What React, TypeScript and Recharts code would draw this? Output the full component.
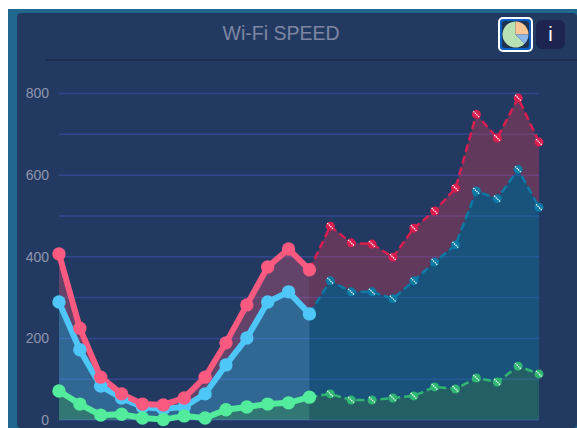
import React from 'react'
import { Area, CartesianGrid, Cell, ComposedChart, Line, Pie, PieChart, XAxis, YAxis } from 'recharts'

const hours = ['0', '1', '2', '3', '4', '5', '6', '7', '8', '9', '10', '11', '12', '13', '14', '15', '16', '17', '18', '19', '20', '21', '22', '23']
const yTicks = [0, 100, 200, 300, 400, 500, 600, 700, 800]

// measured part of the day, up to hour 12
const redMeasured = [407, 225, 105, 64, 39, 37, 54, 105, 189, 282, 375, 419, 368]
const blueMeasured = [289, 172, 83, 54, 32, 27, 32, 64, 135, 201, 289, 314, 260]
const greenMeasured = [71, 39, 12, 14, 5, 1, 10, 5, 25, 32, 39, 42, 56]

// predicted part, from hour 13 on
const redPredicted = [475, 434, 431, 399, 470, 512, 568, 749, 691, 789, 681]
const bluePredicted = [341, 314, 314, 297, 341, 387, 429, 561, 542, 614, 521]
const greenPredicted = [64, 49, 49, 54, 59, 81, 76, 103, 93, 132, 113]

const pieShares = [225, 90, 45]
const pieColors = ['#b9e2b4', '#fbc596', '#8db8ee']

const split = redMeasured.length - 1
const rows = hours.map((hour, i) => {
  const past = i <= split
  const next = i >= split
  const red = past ? redMeasured[i] : redPredicted[i - split - 1]
  const blue = past ? blueMeasured[i] : bluePredicted[i - split - 1]
  const green = past ? greenMeasured[i] : greenPredicted[i - split - 1]
  return {
    hour,
    redPast: past ? red : null,
    bluePast: past ? blue : null,
    greenPast: past ? green : null,
    redNext: next ? red : null,
    blueNext: next ? blue : null,
    greenNext: next ? green : null,
    redBandPast: past ? [blue, red] : null,
    blueBandPast: past ? [green, blue] : null,
    greenBandPast: past ? [0, green] : null,
    redBandNext: next ? [blue, red] : null,
    blueBandNext: next ? [green, blue] : null,
    greenBandNext: next ? [0, green] : null,
  }
})

const hatchDot = (color: string) => (props: any) => {
  const { cx, cy, index } = props
  if (cy == null) return <g key={index} />
  return (
    <g key={index}>
      <circle cx={cx} cy={cy} r={4.5} fill={color} />
      <line x1={cx - 3} y1={cy - 3} x2={cx + 3} y2={cy + 3} stroke="#fff" strokeWidth={1.2} strokeDasharray="1.4 0.8" />
    </g>
  )
}

const App: React.FC = () => {
  return (
    <div style={{ position: 'fixed', left: 8, top: 9, width: 569, height: 419, overflow: 'hidden', background: '#20688e' }}>
      <div style={{ position: 'absolute', left: 9, top: 4, width: 560, height: 415, background: '#223a61', borderRadius: 4 }} />
      <div style={{ position: 'absolute', left: 37, top: 49.5, width: 532, height: 2, background: '#1b2c50' }} />
      <div style={{ position: 'absolute', left: 9, width: 528, top: 13, textAlign: 'center', fontFamily: 'Liberation Sans', fontSize: 19.5, color: '#7f86a3' }}>
        Wi-Fi SPEED
      </div>

      <div style={{ position: 'absolute', left: 490, top: 8, width: 31, height: 31, border: '2px solid #fff', borderRadius: 5, background: '#0a5fc4' }}>
        <div style={{ position: 'absolute', left: 2, top: 2, width: 27, height: 27, background: '#1f3350', borderRadius: 3 }} />
        <div style={{ position: 'absolute', left: 0, top: 0 }}>
          <PieChart width={31} height={31} margin={{ top: 0, right: 0, bottom: 0, left: 0 }}>
            <Pie data={pieShares.map((value) => ({ value }))} dataKey="value" cx="50%" cy="50%" outerRadius={13} innerRadius={0} startAngle={-45} endAngle={-405} stroke="none" isAnimationActive={false}>
              {pieShares.map((_, i) => <Cell key={i} fill={pieColors[i]} />)}
            </Pie>
          </PieChart>
        </div>
      </div>
      <div style={{ position: 'absolute', left: 528, top: 11, width: 29, height: 29, borderRadius: 6, background: '#1e2450', color: '#fff', textAlign: 'center', lineHeight: '29px', fontFamily: 'Liberation Sans', fontSize: 20 }}>
        i
      </div>

      <div style={{ position: 'absolute', left: 0, top: 0 }}>
        <ComposedChart width={569} height={419} data={rows} margin={{ top: 84.5, right: 38, bottom: 8, left: 0 }}>
          <CartesianGrid vertical={false} stroke="#33478f" strokeWidth={1.5} />
          <XAxis dataKey="hour" hide scale="point" padding={{ left: 0, right: 0 }} />
          <YAxis
            domain={[0, 800]}
            ticks={yTicks}
            interval={0}
            width={51}
            axisLine={false}
            tickLine={false}
            tickSize={0}
            tickMargin={10}
            tick={{ fill: '#9095ad', fontSize: 14, fontFamily: 'Liberation Sans' }}
            tickFormatter={(v: number) => (v % 200 === 0 ? String(v) : '')}
          />

          <Area dataKey="redBandNext" fill="#e03a55" fillOpacity={0.33} stroke="none" dot={false} activeDot={false} isAnimationActive={false} />
          <Area dataKey="blueBandNext" fill="#0b7aa5" fillOpacity={0.38} stroke="none" dot={false} activeDot={false} isAnimationActive={false} />
          <Area dataKey="greenBandNext" fill="#2fb673" fillOpacity={0.3} stroke="none" dot={false} activeDot={false} isAnimationActive={false} />
          <Area dataKey="redBandPast" fill="#fb5a80" fillOpacity={0.3} stroke="none" dot={false} activeDot={false} isAnimationActive={false} />
          <Area dataKey="blueBandPast" fill="#4fc6f8" fillOpacity={0.33} stroke="none" dot={false} activeDot={false} isAnimationActive={false} />
          <Area dataKey="greenBandPast" fill="#52ec9c" fillOpacity={0.35} stroke="none" dot={false} activeDot={false} isAnimationActive={false} />

          <Line dataKey="redNext" stroke="#d81e4f" strokeWidth={2.5} strokeDasharray="8 4" dot={hatchDot('#d81e4f')} activeDot={false} isAnimationActive={false} />
          <Line dataKey="blueNext" stroke="#0b7aa5" strokeWidth={2.5} strokeDasharray="8 4" dot={hatchDot('#0b7aa5')} activeDot={false} isAnimationActive={false} />
          <Line dataKey="greenNext" stroke="#2fb673" strokeWidth={2.5} strokeDasharray="8 4" dot={hatchDot('#2fb673')} activeDot={false} isAnimationActive={false} />

          <Line dataKey="bluePast" stroke="#4fc6f8" strokeWidth={6} dot={{ r: 6.7, fill: '#4fc6f8', stroke: 'none' }} activeDot={false} isAnimationActive={false} />
          <Line dataKey="redPast" stroke="#fb5a80" strokeWidth={6} dot={{ r: 6.7, fill: '#fb5a80', stroke: 'none' }} activeDot={false} isAnimationActive={false} />
          <Line dataKey="greenPast" stroke="#52ec9c" strokeWidth={6} dot={{ r: 6.7, fill: '#52ec9c', stroke: 'none' }} activeDot={false} isAnimationActive={false} />
        </ComposedChart>
      </div>
    </div>
  )
}

export default App
